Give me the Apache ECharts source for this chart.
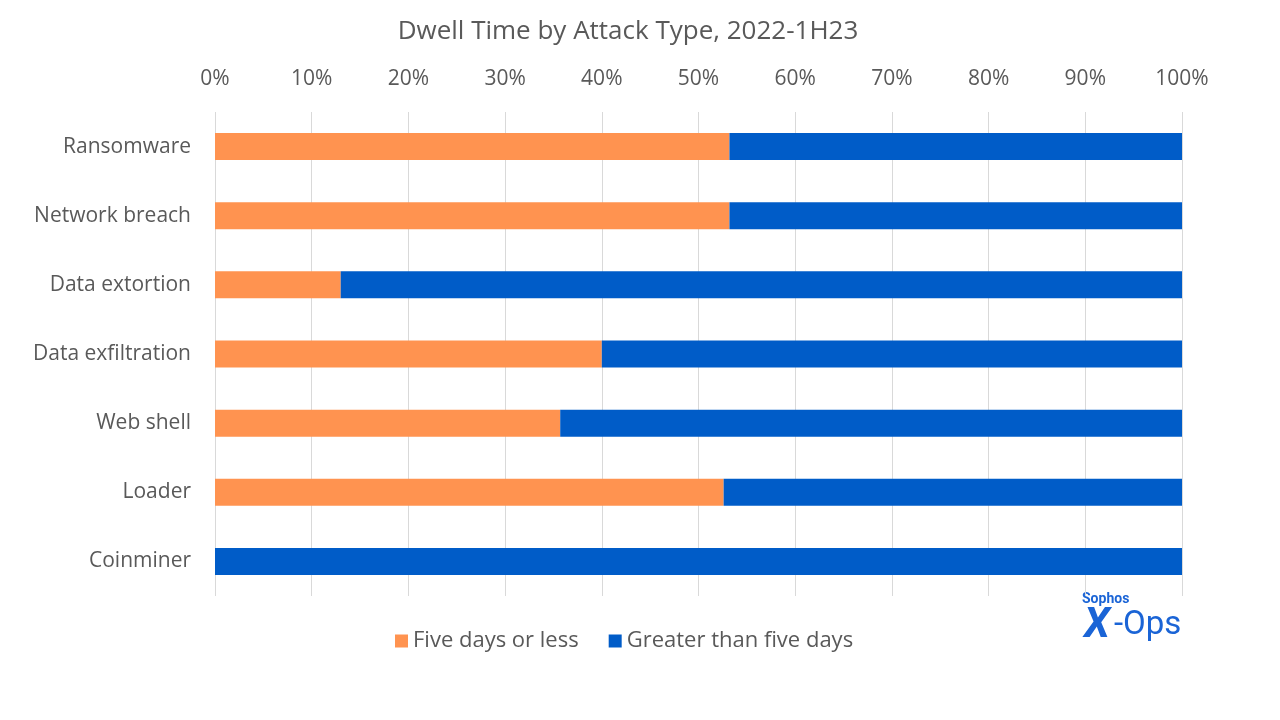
<!DOCTYPE html>
<html><head><meta charset="utf-8">
<script src="https://cdn.jsdelivr.net/npm/echarts@6/dist/echarts.min.js"></script>
<style>html,body{margin:0;padding:0;background:#fff}#c{width:1280px;height:720px}</style>
</head><body><div id="c"></div>
<script>
const categories = ["Ransomware","Network breach","Data extortion","Data exfiltration","Web shell","Loader","Coinminer"];
const fiveOrLess = [53.2, 53.2, 13.0, 40.0, 35.7, 52.6, 0];
const greaterThanFive = [46.8, 46.8, 87.0, 60.0, 64.3, 47.4, 100];
const seriesNames = ["Five days or less","Greater than five days"];
const txt = '#595959';
const font = 'Open Sans';
const chart = echarts.init(document.getElementById('c'));
chart.setOption({
  animation:false,
  textStyle:{fontFamily:font},
  title:{text:'Dwell Time by Attack Type, 2022-1H23',left:623,top:14,textAlign:'center',
    textStyle:{color:txt,fontSize:26,fontWeight:'normal',fontFamily:font}},
  legend:{bottom:63,left:390,itemWidth:13,itemHeight:13,itemGap:30,icon:'rect',
    textStyle:{color:txt,fontSize:22,fontFamily:font},data:seriesNames},
  grid:{left:215,right:98,top:112,bottom:124},
  xAxis:{type:'value',position:'top',min:0,max:100,interval:10,
    axisLabel:{formatter:'{value}%',color:txt,fontSize:21,margin:22},
    axisLine:{show:false},axisTick:{show:false},
    splitLine:{lineStyle:{color:'#d9d9d9',width:1}}},
  yAxis:{type:'category',data:categories,inverse:true,
    axisLabel:{color:txt,fontSize:21,margin:24},
    axisLine:{show:false},axisTick:{show:false}},
  series:[
    {name:seriesNames[0],type:'bar',stack:'t',data:fiveOrLess,barWidth:'39%',itemStyle:{color:'#ff9350'}},
    {name:seriesNames[1],type:'bar',stack:'t',data:greaterThanFive,barWidth:'39%',itemStyle:{color:'#005cc8'}}
  ],
  graphic:[
    {type:'text',left:1082,top:592,style:{text:'Sophos',fill:'#1a64d6',font:'bold 14px Roboto'}},
    {type:'text',left:1084,top:605,style:{text:'X',fill:'#1a64d6',font:'italic bold 42px Roboto'}},
    {type:'text',left:1114,top:609,style:{text:'-Ops',fill:'#1a64d6',font:'33px Roboto'}}
  ]
});
</script></body></html>
